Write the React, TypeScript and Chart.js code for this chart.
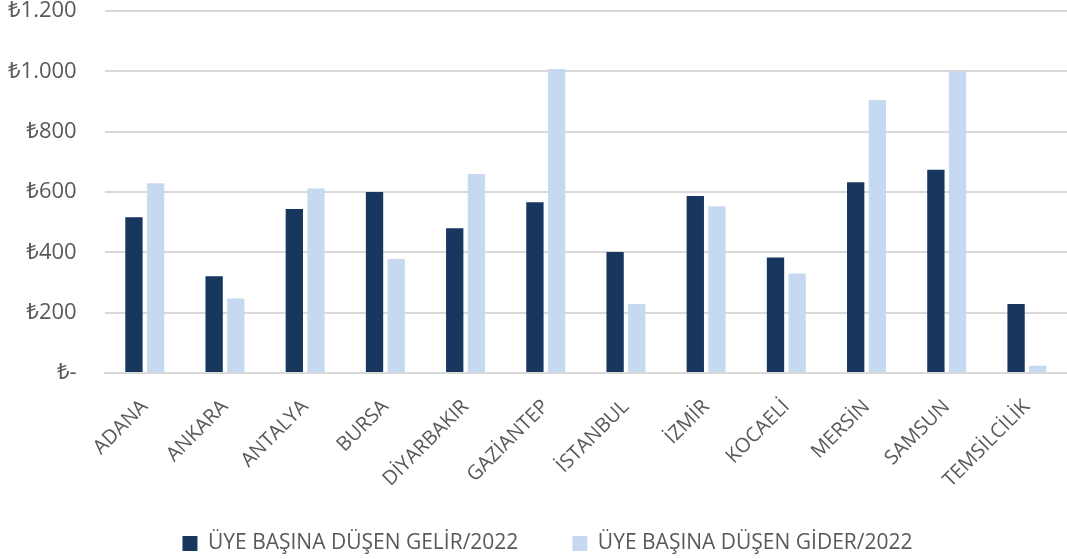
import React, { useEffect, useRef } from "react";
import { Chart, registerables } from "chart.js";

Chart.register(...registerables);

const categories = [
  "ADANA",
  "ANKARA",
  "ANTALYA",
  "BURSA",
  "DİYARBAKIR",
  "GAZİANTEP",
  "İSTANBUL",
  "İZMİR",
  "KOCAELİ",
  "MERSİN",
  "SAMSUN",
  "TEMSİLCİLİK",
];

const gelir2022 = [516, 321, 544, 600, 480, 566, 401, 587, 383, 632, 674, 229];
const gider2022 = [629, 247, 612, 378, 660, 1008, 229, 553, 330, 905, 1000, 24];

const seriesLabels = ["ÜYE BAŞINA DÜŞEN GELİR/2022", "ÜYE BAŞINA DÜŞEN GİDER/2022"];
const yTicks = [0, 200, 400, 600, 800, 1000, 1200];

const FONT = "'Open Sans', 'Noto Sans', sans-serif";
const TEXT = "#595959";

function fmt(v: number): string {
  if (v === 0) return "₺-";
  const s = String(Math.round(v));
  const withDots = s.replace(/\B(?=(\d{3})+(?!\d))/g, ".");
  return "₺" + withDots;
}

const legendShift = {
  id: "legendShift",
  beforeDraw(chart: any) {
    const lg = chart.legend;
    if (lg && !lg._shifted) {
      lg.left += 10;
      lg.right += 10;
      lg._shifted = true;
    }
  },
};

export default function App() {
  const ref = useRef<HTMLCanvasElement | null>(null);

  useEffect(() => {
    if (!ref.current) return;
    const chart = new Chart(ref.current, {
      type: "bar",
      data: {
        labels: categories,
        datasets: [
          {
            label: seriesLabels[0],
            data: gelir2022,
            backgroundColor: "#17375e",
            categoryPercentage: 0.54,
            barPercentage: 0.8,
          },
          {
            label: seriesLabels[1],
            data: gider2022,
            backgroundColor: "#c6d9f1",
            categoryPercentage: 0.54,
            barPercentage: 0.8,
          },
        ],
      },
      plugins: [legendShift],
      options: {
        animation: false,
        responsive: true,
        maintainAspectRatio: false,
        layout: { padding: { left: 8, right: 0, top: 0, bottom: -5 } },
        plugins: {
          legend: {
            position: "bottom",
            labels: {
              boxWidth: 15,
              boxHeight: 15,
              padding: 54,
              color: TEXT,
              font: { family: FONT, size: 21 },
            },
          },
          tooltip: { enabled: false },
        },
        scales: {
          x: {
            grid: { display: false, drawTicks: false },
            border: { display: true, color: "#d9d9d9", width: 2 },
            afterFit: (scale: any) => {
              scale.height = 106;
              scale._computeLabelArea = () => undefined;
            },
            ticks: {
              color: TEXT,
              font: { family: FONT, size: 20 },
              minRotation: 45,
              maxRotation: 45,
              padding: 22,
            },
          },
          y: {
            min: 0,
            max: 1200,
            afterBuildTicks: (axis: any) => {
              axis.ticks = yTicks.map((v) => ({ value: v }));
            },
            grid: {
              color: "#d9d9d9",
              lineWidth: 2,
              drawTicks: true,
              tickLength: 28,
              tickColor: "rgba(0,0,0,0)",
            },
            border: { display: false },
            ticks: {
              color: TEXT,
              font: { family: FONT, size: 22, lineHeight: 1 },
              padding: 0,
              callback: (v: any) => fmt(Number(v)),
            },
          },
        },
      },
    });
    return () => chart.destroy();
  }, []);

  return (
    <div style={{ position: "absolute", left: 0, top: 0, width: 1067, height: 559, background: "#fff" }}>
      <canvas ref={ref} />
    </div>
  );
}
